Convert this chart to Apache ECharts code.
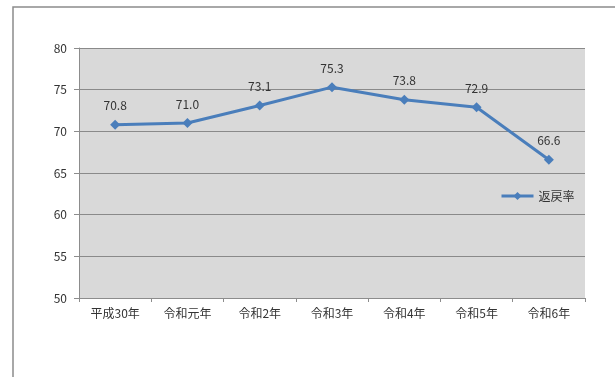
<!DOCTYPE html>
<html>
<head>
<meta charset="utf-8">
<script src="https://cdn.jsdelivr.net/npm/echarts@6/dist/echarts.min.js"></script>
<style>
  html, body { margin: 0; padding: 0; background: #fff; }
  #chart { width: 615px; height: 377px; }
</style>
</head>
<body>
<div id="chart"></div>
<script>
// Fiscal years (Heisei 30 through Reiwa 6)
const categories = ['平成30年', '令和元年', '令和2年', '令和3年', '令和4年', '令和5年', '令和6年'];
// Rate per year (%)
const rateValues = [70.8, 71.0, 73.1, 75.3, 73.8, 72.9, 66.6];
const seriesName = '返戻率';
const yTicks = { min: 50, max: 80, interval: 5 };

const fontFamily = '"Noto Sans CJK JP", "Noto Sans", sans-serif';
const chart = echarts.init(document.getElementById('chart'), null, { renderer: 'canvas' });

chart.setOption({
  animation: false,
  backgroundColor: '#ffffff',
  textStyle: { fontFamily: fontFamily },
  graphic: [{
    type: 'rect',
    shape: { x: 13, y: 7, width: 640, height: 400 },
    style: { fill: 'none', stroke: '#8c8c8c', lineWidth: 1.5 },
    silent: true,
    z: 0
  }],
  grid: {
    left: 79, right: 30, top: 48, bottom: 79,
    show: true,
    backgroundColor: '#d9d9d9',
    borderWidth: 0
  },
  legend: {
    show: true,
    left: 495, top: 185,
    itemWidth: 32, itemHeight: 10,
    itemGap: 4,
    lineStyle: { width: 3 },
    textStyle: { fontSize: 12, color: '#333', fontFamily: fontFamily },
    data: [seriesName]
  },
  xAxis: {
    type: 'category',
    data: categories,
    boundaryGap: true,
    axisLine: { show: true, lineStyle: { color: '#8c8c8c', width: 1 } },
    axisTick: { show: true, length: 4, lineStyle: { color: '#8c8c8c' } },
    axisLabel: { fontSize: 12, color: '#333', margin: 9, fontFamily: fontFamily },
    splitLine: { show: false }
  },
  yAxis: {
    type: 'value',
    min: yTicks.min, max: yTicks.max, interval: yTicks.interval,
    axisLine: { show: true, lineStyle: { color: '#8c8c8c', width: 1 } },
    axisTick: { show: true, length: 5, lineStyle: { color: '#8c8c8c' } },
    axisLabel: { fontSize: 12, color: '#333', margin: 12, fontFamily: fontFamily },
    splitLine: { show: true, lineStyle: { color: '#8a8a8a', width: 1.2 } }
  },
  series: [{
    name: seriesName,
    type: 'line',
    data: rateValues,
    symbol: 'diamond',
    symbolSize: 10,
    itemStyle: { color: '#4a7ebb' },
    lineStyle: { color: '#4a7ebb', width: 3 },
    label: {
      show: true,
      position: 'top',
      distance: 8,
      fontSize: 12,
      color: '#333',
      fontFamily: fontFamily,
      formatter: function (p) { return p.value.toFixed(1); }
    }
  }]
});
</script>
</body>
</html>
